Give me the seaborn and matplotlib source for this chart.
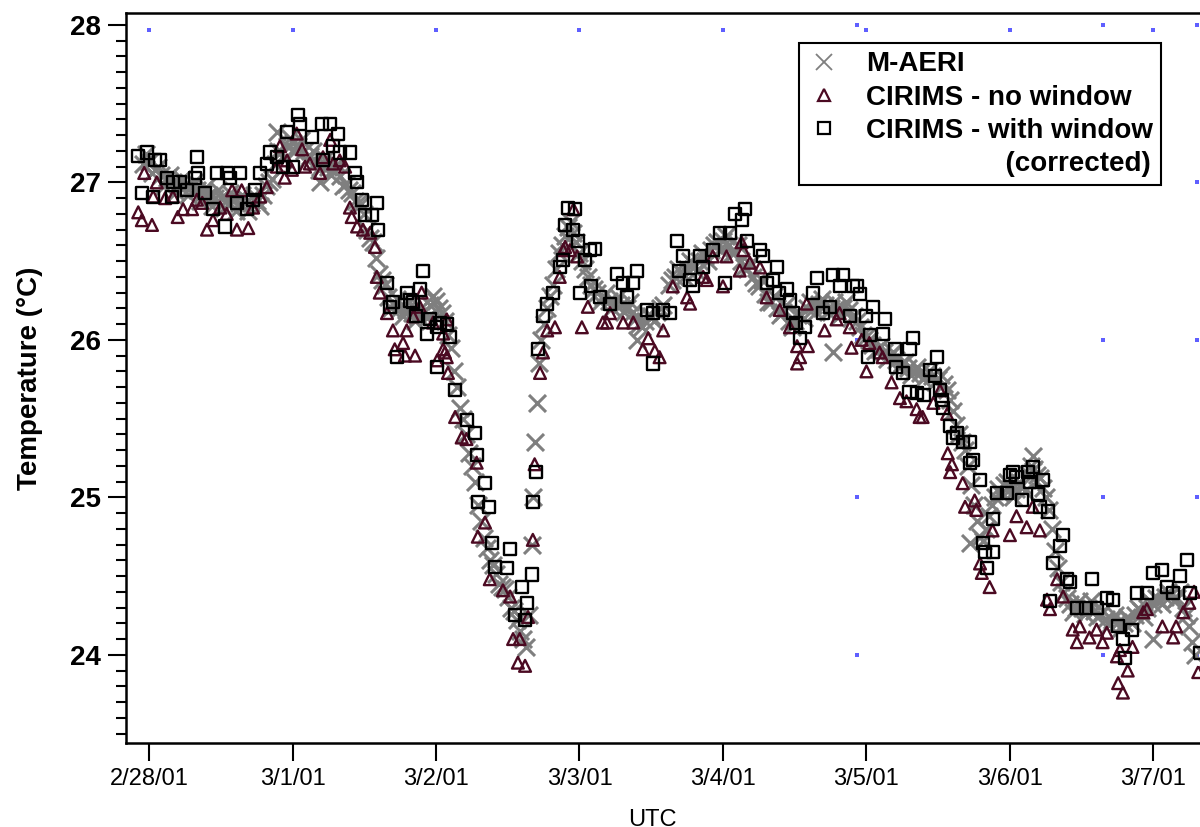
import pandas as pd
import numpy as np
import matplotlib
matplotlib.use("Agg")
import matplotlib.pyplot as plt
import seaborn as sns
from matplotlib.lines import Line2D
from matplotlib.ticker import MultipleLocator

# hours after 2/28/01 00:00 UTC
start = pd.Timestamp("2001-02-28 00:00")

maeri_hours = [-1, 0, 1, 2, 3, 4, 5, 6, 7, 8, 9, 10, 11, 12, 13, 14, 15, 16, 17, 18, 19,
               20, 21, 21.4, 22, 23, 24, 25, 26, 27, 28, 28.6, 29, 30, 31, 32, 33, 34, 35, 36,
               37, 38, 39, 40, 41, 42, 43, 44, 45, 46, 47, 48, 49, 50, 51, 52, 53, 54, 55,
               56, 57, 58, 59, 60, 61, 62, 63, 63.5, 64, 64.3, 64.6, 64.9, 65.2, 65.6, 66,
               67, 68, 69, 70, 71, 72, 73, 74, 75, 76, 77, 78, 79, 80, 81, 81.6, 82, 83, 84,
               85, 86, 87, 88, 89, 90, 91, 92, 93, 94, 95, 96, 97, 98, 99, 100, 101, 102,
               103, 104, 105, 106, 107, 108, 109, 110, 111, 112, 113, 114, 114.4, 115, 116,
               117, 118, 119, 120, 121, 122, 123, 124, 125, 126, 127, 128, 129, 130, 131,
               132, 133, 134, 135, 136, 137, 137.3, 138, 139, 140, 141, 142, 143, 144, 145,
               146, 147, 147.8, 148, 149, 150, 151, 152, 153, 154, 155, 156, 157, 158, 159,
               160, 161, 162, 163, 164, 165, 166, 167, 167.9, 168, 169, 170, 171, 172, 173,
               174, 175]
maeri_temp = [27.12, 27.13, 27.08, 27.05, 27.03, 27.0, 26.99, 26.98, 26.97, 26.95, 26.93,
              26.92, 26.9, 26.9, 26.89, 26.88, 26.87, 26.87, 26.87, 26.88, 26.92,
              27.0, 27.12, 27.32, 27.19, 27.23, 27.25, 27.23, 27.2, 27.17, 27.13, 27.0, 27.11,
              27.1, 27.08, 27.04, 26.99, 26.93, 26.87, 26.8,
              26.65, 26.52, 26.38, 26.27, 26.22, 26.2, 26.19, 26.17, 26.15, 26.18, 26.22,
              26.25, 26.17, 26.03, 25.8, 25.57, 25.4, 25.2, 24.95,
              24.74, 24.6, 24.51, 24.43, 24.37, 24.28, 24.15, 24.05, 24.25, 24.7, 25.0, 25.35,
              25.6, 25.85, 26.0, 26.1,
              26.28, 26.45, 26.6, 26.72, 26.68, 26.55, 26.45, 26.35, 26.3, 26.27, 26.25,
              26.23, 26.22, 26.2, 26.18, 26.0, 26.1, 26.12, 26.15,
              26.18, 26.22, 26.35, 26.4, 26.43, 26.45, 26.48, 26.5, 26.53, 26.57, 26.62,
              26.63, 26.6, 26.56, 26.5, 26.45, 26.4, 26.34,
              26.29, 26.24, 26.2, 26.18, 26.12, 26.12, 26.16, 26.2, 26.22, 26.23, 26.22,
              26.2, 25.92, 26.2, 26.2,
              26.19, 26.15, 26.08, 26.02, 25.97, 25.94, 25.92, 25.9, 25.87, 25.85, 25.82,
              25.8, 25.79, 25.78, 25.77,
              25.75, 25.72, 25.62, 25.46, 25.35, 25.2, 24.71, 24.95, 24.75, 24.8, 24.95,
              25.05, 25.08, 25.05, 25.05,
              25.08, 25.15, 25.26, 25.18, 25.12, 25.0, 24.8, 24.55, 24.4, 24.32, 24.3, 24.3,
              24.3, 24.28, 24.25,
              24.23, 24.22, 24.21, 24.2, 24.22, 24.25, 24.28, 24.3, 24.1, 24.32, 24.35,
              24.37, 24.38, 24.36, 24.3,
              24.18, 24.0]

# in-between M-AERI samples (edges of the band)
maeri_half_hours = [-0.5, 0.5, 1.5, 2.5, 3.5, 4.5, 5.5, 6.5, 7.5, 8.5, 9.5, 10.5, 11.5,
                    12.5, 13.5, 14.5, 15.5, 16.5, 17.5, 18.5, 19.5, 20.5, 21.5, 22.5, 23.5,
                    24.5, 25.5, 26.5, 27.5, 28.5, 29.5, 30.5, 31.5, 32.5, 33.5, 34.5, 35.5,
                    36.5, 37.5, 38.5, 39.5, 40.5, 41.5, 42.5, 43.5, 44.5, 45.5, 46.5, 47.5,
                    48.5, 49.5, 50.5, 51.5, 52.5, 53.5, 54.5, 55.5, 56.5, 57.5, 58.5, 59.5,
                    60.5, 61.5, 62.5, 66.5, 67.5, 68.5, 69.5, 70.5, 71.5, 72.5, 73.5, 74.5,
                    75.5, 76.5, 77.5, 78.5, 79.5, 80.5, 81.5, 82.5, 83.5, 84.5, 85.5, 87.5,
                    88.5, 89.5, 90.5, 91.5, 92.5, 93.5, 94.5, 95.5, 96.5, 97.5, 98.5, 99.5,
                    100.5, 101.5, 102.5, 103.5, 104.5, 105.5, 106.5, 107.5, 108.5, 109.5,
                    110.5, 111.5, 112.5, 113.5, 114.5, 115.5, 116.5, 117.5, 118.5, 119.5,
                    120.5, 121.5, 122.5, 123.5, 124.5, 125.5, 126.5, 127.5, 128.5, 129.5,
                    130.5, 131.5, 132.5, 133.5, 134.5, 135.5, 136.5, 137.5, 138.5, 139.5,
                    140.5, 141.5, 142.5, 143.5, 144.5, 145.5, 146.5, 147.5, 148.5, 149.5,
                    150.5, 151.5, 152.5, 153.5, 154.5, 155.5, 156.5, 157.5, 158.5, 159.5,
                    160.5, 161.5, 162.5, 163.5, 164.5, 165.5, 166.5, 167.5, 168.5, 169.5,
                    170.5, 171.5, 172.5, 173.5, 174.5]
maeri_half_temp = [27.18, 27.06, 27.1, 26.98, 27.05, 26.94, 27.02, 26.92, 27.0, 26.88,
                   26.97, 26.85, 26.95, 26.84, 26.93, 26.82, 26.92, 26.82, 26.92, 26.85,
                   26.98, 27.02, 27.2, 27.15, 27.28, 27.2, 27.27, 27.14, 27.2, 27.08, 27.15,
                   27.05, 27.12, 26.98, 26.95, 26.88, 26.86, 26.7, 26.62, 26.42, 26.35,
                   26.2, 26.26, 26.15, 26.24, 26.12, 26.2, 26.14, 26.28, 26.2, 26.12, 25.95,
                   25.7, 25.5, 25.28, 25.1, 24.85, 24.68, 24.57, 24.45, 24.42, 24.3, 24.22,
                   24.1, 26.2, 26.35, 26.55, 26.66, 26.75, 26.62, 26.5, 26.4, 26.32, 26.24,
                   26.3, 26.2, 26.27, 26.18, 26.24, 26.14, 26.08, 26.16, 26.12, 26.2, 26.38,
                   26.45, 26.4, 26.5, 26.44, 26.55, 26.5, 26.6, 26.58, 26.66, 26.55, 26.6,
                   26.46, 26.48, 26.36, 26.38, 26.24, 26.28, 26.16, 26.22, 26.08, 26.16,
                   26.14, 26.24, 26.18, 26.26, 26.18, 26.24, 26.16, 26.24, 26.14, 26.12,
                   26.03, 26.0, 25.93, 25.96, 25.88, 25.92, 25.83, 25.86, 25.78, 25.83,
                   25.75, 25.8, 25.73, 25.78, 25.68, 25.55, 25.4, 25.3, 25.08, 24.85, 24.72,
                   24.88, 25.0, 25.02, 25.1, 25.0, 25.1, 25.04, 25.2, 25.14, 25.06, 24.92,
                   24.66, 24.46, 24.36, 24.27, 24.34, 24.26, 24.34, 24.24, 24.28, 24.19,
                   24.25, 24.17, 24.24, 24.2, 24.3, 24.24, 24.34, 24.36, 24.32, 24.4, 24.34,
                   24.4, 24.25, 24.08]

nowin_hours = [-1.8, -1.2, -0.8, 0.5, 0.7, 1.3, 2.7, 4.0, 4.8, 5.7, 7.2, 8.0, 8.9, 9.7,
               10.7, 11.9, 13.0, 13.9, 14.7, 15.5, 16.6, 17.4, 18.6, 19.7, 21.4, 21.9, 22.7,
               23.1, 23.9, 24.7, 25.6, 26.1, 26.9, 28.6, 29.1, 30.3, 30.8, 31.9, 32.8, 33.6,
               33.9, 34.8, 35.8, 37.0, 37.8, 38.1, 38.6, 39.8, 40.8, 41.1, 42.5, 42.8, 43.1,
               44.2, 44.5, 45.3, 45.6, 47.5, 48.2, 49.2, 49.2, 49.5, 49.8, 49.8, 50.0, 51.2,
               52.3, 53.1, 54.8, 55.0, 56.2, 57.0, 59.2, 60.4, 60.9, 61.7, 62.0, 62.9, 63.4,
               64.2, 64.5, 65.4, 65.9, 66.6, 67.9, 68.7, 69.3, 69.6, 70.4, 71.0, 71.6, 72.4,
               73.4, 75.9, 76.6, 77.1, 79.3, 81.0, 82.6, 83.5, 84.6, 85.4, 86.0, 87.6, 90.0,
               90.5, 92.7, 93.3, 94.3, 96.0, 96.6, 98.8, 99.1, 99.4, 100.5, 102.2, 103.3,
               105.5, 107.2, 108.4, 108.4, 108.9, 110.0, 110.2, 113.0, 115.0, 115.5, 117.2,
               117.5, 119.2, 120.0, 120.5, 122.2, 122.7, 124.2, 125.6, 126.7, 128.4, 128.9,
               129.4, 131.2, 132.3, 133.5, 133.6, 134.0, 134.3, 136.1, 136.5, 138.1, 138.4,
               139.0, 139.3, 140.6, 141.1, 144.0, 145.1, 146.8, 147.8, 149.0, 150.2, 150.7,
               151.9, 152.9, 154.5, 155.2, 155.7, 157.3, 158.5, 159.5, 160.2, 161.9, 162.1,
               162.4, 162.9, 163.7, 164.5, 166.3, 166.9, 169.5, 171.3, 171.8, 173.0, 174.0,
               174.8, 175.5]
nowin_temp = [26.81, 26.76, 27.06, 26.73, 26.91, 27.0, 26.9, 26.91, 26.78, 26.83, 26.83,
              26.89, 26.87, 26.7, 26.76, 26.84, 26.8, 26.95, 26.7, 26.95, 26.71, 26.84,
              26.91, 26.97, 27.1, 27.23, 27.03, 27.14, 27.08, 27.31, 27.21, 27.1, 27.12,
              27.06, 27.16, 27.27, 27.12, 27.14, 27.1, 26.84, 26.78, 26.72, 26.7, 26.68,
              26.59, 26.4, 26.3, 26.17, 26.06, 25.94, 25.98, 25.9, 26.06, 26.15, 25.9, 26.21,
              26.3, 26.11, 25.87, 25.94, 26.04, 25.92, 26.13, 25.89, 25.79, 25.51, 25.38,
              25.37, 25.22, 24.75, 24.84, 24.48, 24.41, 24.37, 24.1, 23.95, 24.1, 23.93,
              24.24, 24.73, 25.21, 25.79, 25.92, 26.06, 26.08, 26.4, 26.57, 26.59, 26.57,
              26.83, 26.53, 26.08, 26.21, 26.11, 26.11, 26.17, 26.11, 26.11, 25.94, 26.01,
              25.93, 25.89, 26.06, 26.34, 26.27, 26.23, 26.4, 26.38, 26.53, 26.34, 26.53,
              26.44, 26.62, 26.57, 26.49, 26.46, 26.27, 26.19, 26.08, 25.96, 25.85, 25.89,
              26.23, 25.96, 26.06, 26.13, 26.17, 26.08, 25.95, 26.0, 25.8, 25.98, 25.92,
              25.89, 25.73, 25.63, 25.61, 25.56, 25.51, 25.51, 25.6, 25.68, 25.53, 25.28,
              25.16, 25.21, 25.09, 24.94, 24.98, 24.92, 24.58, 24.52, 24.43, 24.79, 24.76,
              24.88, 24.81, 24.94, 24.79, 24.35, 24.29, 24.48, 24.37, 24.16, 24.08, 24.18,
              24.11, 24.16, 24.08, 24.14, 23.99, 23.82, 24.03, 23.76, 23.9, 24.05, 24.27,
              24.29, 24.18, 24.11, 24.18, 24.27, 24.33, 24.4, 23.89]

win_hours = [-1.8, -1.2, -0.3, 0.7, 1.0, 1.8, 3.0, 3.8, 4.0, 5.2, 6.4, 7.7, 8.0, 8.2, 9.4,
             10.7, 11.4, 12.7, 13.0, 13.5, 14.7, 15.2, 16.4, 17.4, 17.7, 18.6, 19.7, 20.2,
             21.4, 22.4, 23.1, 24.1, 24.9, 25.3, 27.3, 28.9, 29.1, 30.3, 30.8, 31.6, 31.9,
             33.6, 34.5, 34.8, 35.6, 36.1, 37.3, 38.1, 38.3, 39.8, 40.3, 40.8, 41.5, 43.1,
             43.6, 44.2, 44.6, 45.3, 45.8, 46.5, 47.0, 48.2, 48.2, 48.7, 49.8, 50.3, 51.2,
             53.2, 54.5, 54.8, 55.0, 56.2, 56.9, 57.4, 57.9, 59.9, 60.4, 61.2, 62.4, 62.9,
             63.2, 64.1, 64.3, 64.8, 65.1, 65.9, 66.6, 67.6, 68.7, 69.3, 69.6, 70.1, 70.9,
             71.3, 71.7, 72.1, 72.9, 73.8, 74.0, 74.6, 75.4, 77.1, 78.2, 79.3, 79.9, 81.0,
             81.6, 83.3, 84.3, 84.3, 86.0, 87.1, 88.3, 88.6, 89.3, 90.5, 91.0, 92.1, 92.7,
             94.3, 95.5, 96.3, 97.2, 98.0, 99.2, 99.7, 100.0, 102.2, 102.7, 103.3, 104.4,
             105.0, 105.4, 106.7, 107.2, 107.7, 108.2, 108.9, 109.7, 111.1, 111.7, 112.7,
             113.9, 114.4, 115.5, 116.0, 117.2, 117.7, 118.4, 118.9, 120.0, 120.2, 120.6,
             121.1, 122.7, 123.1, 124.8, 125.0, 126.1, 127.2, 127.2, 127.8, 128.4, 129.7,
             130.6, 131.4, 131.8, 132.3, 132.6, 132.8, 134.0, 134.5, 135.1, 136.1, 137.3,
             137.3, 137.8, 139.0, 139.5, 139.8, 140.1, 141.1, 141.1, 141.8, 143.5, 144.0,
             144.5, 145.1, 146.1, 147.0, 147.3, 147.8, 148.7, 149.0, 149.5, 150.4, 150.7,
             151.2, 152.3, 152.8, 153.5, 154.0, 155.3, 156.8, 157.8, 158.5, 160.2, 161.2,
             162.1, 162.9, 163.2, 164.5, 165.2, 166.9, 167.9, 169.5, 170.2, 171.3, 172.4,
             173.6, 174.1, 175.8]
win_temp = [27.17, 26.93, 27.19, 26.91, 27.14, 27.14, 27.03, 26.91, 27.0, 27.0, 26.95,
            27.03, 27.16, 27.06, 26.93, 26.83, 27.06, 26.72, 27.06, 27.03, 26.87, 27.06,
            26.83, 26.89, 26.95, 27.06, 27.12, 27.19, 27.16, 27.1, 27.32, 27.1, 27.43,
            27.37, 27.29, 27.37, 27.14, 27.37, 27.23, 27.31, 27.19, 27.19, 27.06, 27.0,
            26.89, 26.79, 26.79, 26.87, 26.7, 26.36, 26.21, 26.24, 25.89, 26.3, 26.25,
            26.24, 26.15, 26.32, 26.44, 26.04, 26.13, 26.08, 25.83, 26.11, 26.1, 26.02,
            25.68, 25.49, 25.41, 25.27, 24.97, 25.09, 24.94, 24.71, 24.56, 24.55, 24.67,
            24.25, 24.43, 24.22, 24.33, 24.51, 24.97, 25.16, 25.94, 26.15, 26.23, 26.3,
            26.46, 26.51, 26.73, 26.84, 26.7, 26.83, 26.63, 26.3, 26.51, 26.57, 26.34,
            26.58, 26.27, 26.23, 26.42, 26.36, 26.27, 26.36, 26.44, 26.19, 26.17, 25.85,
            26.19, 26.17, 26.63, 26.44, 26.53, 26.38, 26.34, 26.53, 26.46, 26.57, 26.68,
            26.36, 26.68, 26.8, 26.76, 26.83, 26.63, 26.57, 26.53, 26.36, 26.38, 26.46,
            26.3, 26.32, 26.25, 26.17, 26.11, 26.01, 26.08, 26.3, 26.39, 26.17, 26.21,
            26.41, 26.34, 26.41, 26.15, 26.34, 26.34, 26.29, 26.15, 25.89, 26.03, 26.21,
            26.04, 26.13, 25.94, 25.83, 25.79, 25.94, 25.67, 26.01, 25.66, 25.65, 25.81,
            25.77, 25.89, 25.68, 25.62, 25.57, 25.45, 25.38, 25.41, 25.35, 25.35, 25.22,
            25.24, 25.11, 24.71, 24.65, 24.55, 24.86, 24.65, 25.03, 25.03, 25.14, 25.16,
            25.13, 24.98, 25.16, 25.1, 25.19, 25.02, 24.94, 25.11, 24.91, 24.34, 24.58,
            24.69, 24.76, 24.48, 24.46, 24.3, 24.3, 24.48, 24.3, 24.36, 24.35, 24.18,
            24.1, 23.98, 24.16, 24.39, 24.39, 24.52, 24.54, 24.43, 24.39, 24.5, 24.6,
            24.39, 24.01]

# small blue reference dots
dot_hours = [0, 24, 48, 72, 96, 120, 144, 168,
             118.5, 118.5, 118.5, 118.5, 118.5,
             159.5, 159.5, 159.5, 159.5, 159.5,
             175.3, 175.3, 175.3, 175.3, 175.3]
dot_temp = [27.97, 27.97, 27.97, 27.97, 27.97, 27.97, 27.97, 27.97,
            28.0, 27.0, 26.0, 25.0, 24.0,
            28.0, 27.0, 26.0, 25.0, 24.0,
            28.0, 27.0, 26.0, 25.0, 24.0]

tick_hours = [0, 24, 48, 72, 96, 120, 144, 168]
x_tick_labels = ["2/28/01", "3/1/01", "3/2/01", "3/3/01", "3/4/01", "3/5/01", "3/6/01", "3/7/01"]
y_ticks = [24, 25, 26, 27, 28]
y_tick_labels = ["24", "25", "26", "27", "28"]


def to_time(hours):
    return start + pd.to_timedelta(np.asarray(hours, dtype=float), unit="h")


maeri = pd.DataFrame({"time": to_time(maeri_hours + maeri_half_hours),
                      "temp": maeri_temp + maeri_half_temp})
nowin = pd.DataFrame({"time": to_time(nowin_hours), "temp": nowin_temp})
win = pd.DataFrame({"time": to_time(win_hours), "temp": win_temp})
dots = pd.DataFrame({"time": to_time(dot_hours), "temp": dot_temp})

sns.set_style("ticks")
plt.rcParams['font.family'] = ['Liberation Sans', 'DejaVu Sans']
plt.rcParams['text.color'] = 'black'
plt.rcParams['axes.labelcolor'] = 'black'
plt.rcParams['xtick.color'] = 'black'
plt.rcParams['ytick.color'] = 'black'

maroon = '#4B0A22'

fig = plt.figure(figsize=(12, 8.27), dpi=100)
ax = fig.add_axes([0.105, 0.1016, 0.905, 0.8827])

sns.scatterplot(data=dots, x="time", y="temp", ax=ax, marker="s", s=5,
                color="#5f5fff", linewidth=0, zorder=1)
sns.scatterplot(data=maeri, x="time", y="temp", ax=ax, marker="x", s=150,
                color="#7f7f7f", linewidth=2.2, zorder=2)
sns.scatterplot(data=nowin, x="time", y="temp", ax=ax, marker="^", s=72,
                facecolor="none", edgecolor=maroon, linewidth=1.7, zorder=3)
sns.scatterplot(data=win, x="time", y="temp", ax=ax, marker="s", s=75,
                facecolor="none", edgecolor="black", linewidth=1.7, zorder=4)

ax.set_xlim(to_time([-3.85])[0], to_time([177.8])[0])
ax.set_ylim(23.44, 28.076)

ax.set_xticks(to_time(tick_hours))
ax.set_xticklabels(x_tick_labels, fontsize=17, color="black")
ax.set_yticks(y_ticks)
ax.set_yticklabels(y_tick_labels, fontsize=20, fontweight="bold", color="black")
ax.yaxis.set_minor_locator(MultipleLocator(0.1))

ax.tick_params(axis="x", which="major", direction="out", length=13, width=1.5,
               pad=5, colors="black")
ax.tick_params(axis="y", which="major", direction="out", length=13, width=1.5,
               pad=5, colors="black")
ax.tick_params(axis="y", which="minor", direction="out", length=7, width=1.5,
               colors="black")

for side in ["left", "bottom", "top"]:
    ax.spines[side].set_linewidth(1.8)
    ax.spines[side].set_color("black")
ax.spines["right"].set_visible(False)

ax.set_xlabel("UTC", fontsize=17, color="black")
ax.xaxis.set_label_coords(0.4843, -0.09)
ax.set_ylabel("Temperature (\u00b0C)", fontsize=20, fontweight="bold", color="black")
ax.yaxis.set_label_coords(-0.076, 0.5)

handles = [
    Line2D([], [], ls="none", marker="x", color="#7f7f7f", markersize=11, mew=1.3),
    Line2D([], [], ls="none", marker="^", mfc="none", mec=maroon, markersize=9, mew=1.6),
    Line2D([], [], ls="none", marker="s", mfc="none", mec="black", markersize=9, mew=1.6),
    Line2D([], [], ls="none", marker=None),
]
labels = ["M-AERI", "CIRIMS - no window", "CIRIMS - with window",
          " " * 18 + "(corrected)"]
leg = ax.legend(handles=handles, labels=labels, loc="upper right",
                bbox_to_anchor=(1161 / 1200, 1 - 43 / 827), bbox_transform=fig.transFigure,
                prop={"weight": "bold", "size": 20}, frameon=True, fancybox=False,
                edgecolor="black", framealpha=1, borderpad=0.3, handlelength=1.2,
                handletextpad=0.9, labelspacing=0.26, borderaxespad=0)
leg.get_frame().set_linewidth(1.5)
leg.set_zorder(10)

plt.savefig("out.png", dpi=100)
